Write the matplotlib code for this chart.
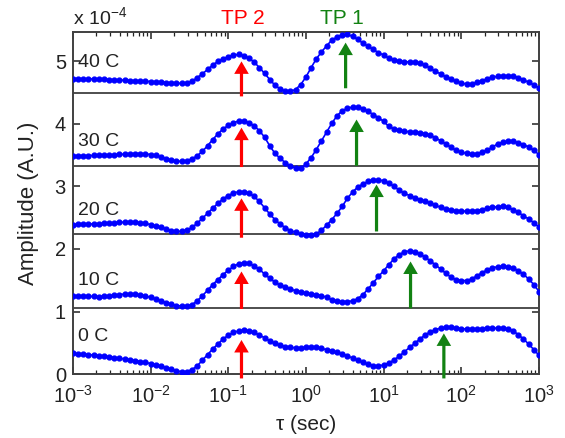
import numpy as np
import matplotlib
matplotlib.use('Agg')
import matplotlib.pyplot as plt

plt.rcParams['font.family'] = ['Liberation Sans', 'DejaVu Sans']
plt.rcParams['mathtext.fontset'] = 'custom'
plt.rcParams['mathtext.rm'] = 'Liberation Sans'
plt.rcParams['mathtext.default'] = 'regular'

# relaxation time grid (15 points per decade, 1e-3 .. 1e3 s)
tau = np.logspace(-3, 3, 91)

# amplitudes (x 1e-4), one decade per row
amp_40 = [4.725, 4.724, 4.722, 4.720, 4.718, 4.716, 4.713, 4.710, 4.706, 4.702, 4.698, 4.694, 4.690, 4.686, 4.682,
          4.678, 4.673, 4.668, 4.662, 4.656, 4.650, 4.648, 4.655, 4.680, 4.740, 4.800, 4.870, 4.940, 5.000, 5.040,
          5.075, 5.100, 5.110, 5.090, 5.050, 4.990, 4.900, 4.810, 4.710, 4.620, 4.560, 4.525, 4.520, 4.550, 4.630,
          4.750, 4.900, 5.040, 5.150, 5.250, 5.340, 5.390, 5.420, 5.430, 5.400, 5.350, 5.290, 5.240, 5.190, 5.140,
          5.100, 5.050, 5.020, 5.000, 4.995, 4.990, 4.985, 4.970, 4.940, 4.890, 4.840, 4.800, 4.755, 4.715, 4.680,
          4.655, 4.635, 4.635, 4.665, 4.690, 4.720, 4.745, 4.760, 4.765, 4.770, 4.765, 4.740, 4.705, 4.665, 4.625,
          4.576]
amp_30 = [3.490, 3.491, 3.492, 3.493, 3.495, 3.497, 3.500, 3.503, 3.507, 3.511, 3.516, 3.521, 3.525, 3.525, 3.520,
          3.510, 3.495, 3.470, 3.445, 3.420, 3.405, 3.400, 3.410, 3.440, 3.490, 3.560, 3.650, 3.750, 3.840, 3.920,
          3.975, 4.020, 4.045, 4.045, 4.020, 3.970, 3.890, 3.790, 3.650, 3.530, 3.450, 3.380, 3.330, 3.290, 3.290,
          3.360, 3.460, 3.590, 3.730, 3.870, 4.010, 4.130, 4.210, 4.250, 4.270, 4.270, 4.245, 4.200, 4.150, 4.100,
          4.040, 3.960, 3.920, 3.895, 3.880, 3.875, 3.870, 3.860, 3.845, 3.820, 3.780, 3.730, 3.680, 3.625, 3.575,
          3.545, 3.530, 3.520, 3.525, 3.550, 3.580, 3.630, 3.680, 3.705, 3.720, 3.720, 3.700, 3.670, 3.630, 3.575,
          3.510]
amp_20 = [2.390, 2.392, 2.395, 2.398, 2.401, 2.405, 2.410, 2.415, 2.420, 2.425, 2.428, 2.430, 2.428, 2.420, 2.408,
          2.390, 2.370, 2.345, 2.320, 2.295, 2.280, 2.280, 2.300, 2.345, 2.410, 2.490, 2.570, 2.650, 2.730, 2.800,
          2.855, 2.895, 2.915, 2.915, 2.890, 2.840, 2.760, 2.660, 2.560, 2.470, 2.400, 2.340, 2.295, 2.265, 2.240,
          2.225, 2.220, 2.240, 2.300, 2.380, 2.470, 2.570, 2.680, 2.810, 2.910, 2.990, 3.040, 3.080, 3.100, 3.105,
          3.090, 3.050, 3.000, 2.940, 2.890, 2.855, 2.820, 2.790, 2.765, 2.735, 2.700, 2.665, 2.635, 2.620, 2.610,
          2.605, 2.605, 2.610, 2.615, 2.630, 2.650, 2.665, 2.675, 2.680, 2.665, 2.630, 2.585, 2.530, 2.480, 2.420,
          2.350]
amp_10 = [1.250, 1.248, 1.245, 1.243, 1.241, 1.240, 1.242, 1.250, 1.262, 1.272, 1.278, 1.280, 1.275, 1.262, 1.248,
          1.225, 1.200, 1.170, 1.140, 1.115, 1.095, 1.088, 1.090, 1.110, 1.170, 1.250, 1.340, 1.430, 1.510, 1.590,
          1.660, 1.720, 1.765, 1.780, 1.770, 1.730, 1.675, 1.600, 1.530, 1.470, 1.425, 1.390, 1.360, 1.330, 1.305,
          1.290, 1.280, 1.270, 1.255, 1.225, 1.190, 1.165, 1.160, 1.160, 1.170, 1.205, 1.270, 1.360, 1.460, 1.560,
          1.650, 1.750, 1.840, 1.910, 1.955, 1.970, 1.955, 1.920, 1.870, 1.810, 1.745, 1.680, 1.610, 1.550, 1.510,
          1.495, 1.495, 1.520, 1.570, 1.620, 1.665, 1.700, 1.715, 1.720, 1.715, 1.695, 1.655, 1.595, 1.520, 1.430,
          1.320]
amp_0 = [0.330, 0.325, 0.318, 0.310, 0.302, 0.293, 0.285, 0.275, 0.264, 0.252, 0.240, 0.228, 0.215, 0.200, 0.185,
         0.168, 0.148, 0.125, 0.100, 0.075, 0.050, 0.038, 0.040, 0.070, 0.130, 0.220, 0.310, 0.400, 0.480, 0.560,
         0.620, 0.665, 0.690, 0.700, 0.690, 0.665, 0.625, 0.580, 0.530, 0.490, 0.460, 0.440, 0.425, 0.420, 0.420,
         0.425, 0.430, 0.425, 0.410, 0.390, 0.370, 0.345, 0.320, 0.290, 0.255, 0.220, 0.185, 0.155, 0.135, 0.130,
         0.145, 0.175, 0.225, 0.285, 0.355, 0.425, 0.490, 0.560, 0.625, 0.675, 0.710, 0.735, 0.745, 0.745, 0.735,
         0.725, 0.720, 0.720, 0.722, 0.726, 0.730, 0.733, 0.735, 0.733, 0.720, 0.690, 0.630, 0.560, 0.480, 0.390,
         0.300]

curves = [amp_40, amp_30, amp_20, amp_10, amp_0]
temps = ['40 C', '30 C', '20 C', '10 C', '0 C']
label_y = [4.98, 3.72, 2.62, 1.49, 0.60]
baselines = [4.5, 3.33, 2.235, 1.06]

# TP2 (red) and TP1 (green) arrows: position, tail, tip
tp2_tau = [0.148, 0.148, 0.148, 0.148, 0.148]
tp2_tail = [4.44, 3.31, 2.18, 1.04, -0.07]
tp2_tip = [5.00, 3.94, 2.81, 1.64, 0.545]
tp1_tau = [3.24, 4.48, 8.1, 22.2, 59.6]
tp1_tail = [4.57, 3.33, 2.28, 1.05, -0.07]
tp1_tip = [5.30, 4.07, 3.03, 1.80, 0.65]

fig = plt.figure(figsize=(5.65, 4.38), dpi=100)
ax = fig.add_axes([0.129, 0.146, 0.825, 0.781])

for b in baselines:
    ax.axhline(b, color='#404040', lw=1.3, zorder=1)

for y in curves:
    ax.plot(tau, y, '-o', color='blue', ms=3.5, lw=1.2, zorder=3)

for t, y in zip(temps, label_y):
    ax.text(1.15e-3, y, t, fontsize=14, va='center', ha='left', color='#222222')

for x, a, b in zip(tp2_tau, tp2_tail, tp2_tip):
    ax.annotate('', xy=(x, b), xytext=(x, a),
                arrowprops=dict(facecolor='red', edgecolor='none', width=2.3,
                                headwidth=10.5, headlength=9, shrink=0),
                zorder=4, annotation_clip=False)
for x, a, b in zip(tp1_tau, tp1_tail, tp1_tip):
    ax.annotate('', xy=(x, b), xytext=(x, a),
                arrowprops=dict(facecolor='#128212', edgecolor='none', width=2.3,
                                headwidth=10.5, headlength=9, shrink=0),
                zorder=4, annotation_clip=False)

ax.text(0.152, 1.012, 'TP 2', color='red', fontsize=15, ha='center', va='bottom',
        transform=ax.get_xaxis_transform())
ax.text(2.87, 1.012, 'TP 1', color='#128212', fontsize=15, ha='center', va='bottom',
        transform=ax.get_xaxis_transform())
ax.text(0.0, 1.012, r'x 10$^{-4}$', fontsize=14, ha='left', va='bottom',
        transform=ax.transAxes, color='#222222')

ax.set_xscale('log')
ax.set_xlim(1e-3, 1e3)
ax.set_ylim(0, 5.47)
ax.set_xticks([1e-3, 1e-2, 1e-1, 1e0, 1e1, 1e2, 1e3])
ax.set_xticklabels([r'10$^{-3}$', r'10$^{-2}$', r'10$^{-1}$', r'10$^{0}$',
                    r'10$^{1}$', r'10$^{2}$', r'10$^{3}$'])
ax.set_yticks([0, 1, 2, 3, 4, 5])
ax.tick_params(which='both', direction='in', top=True, right=True,
               labelsize=14.5, colors='#222222')
ax.tick_params(which='major', length=5, width=1.1)
ax.tick_params(which='minor', length=3, width=0.9)
ax.tick_params(axis='x', which='major', pad=8)
ax.tick_params(axis='y', which='major', pad=5)
for s in ax.spines.values():
    s.set_color('#404040')
    s.set_linewidth(1.4)

ax.set_ylabel('Amplitude (A.U.)', fontsize=16, color='#222222', labelpad=11)
ax.set_xlabel('τ (sec)', fontsize=15, color='#222222', labelpad=6)

fig.savefig('out.png', dpi=100)
